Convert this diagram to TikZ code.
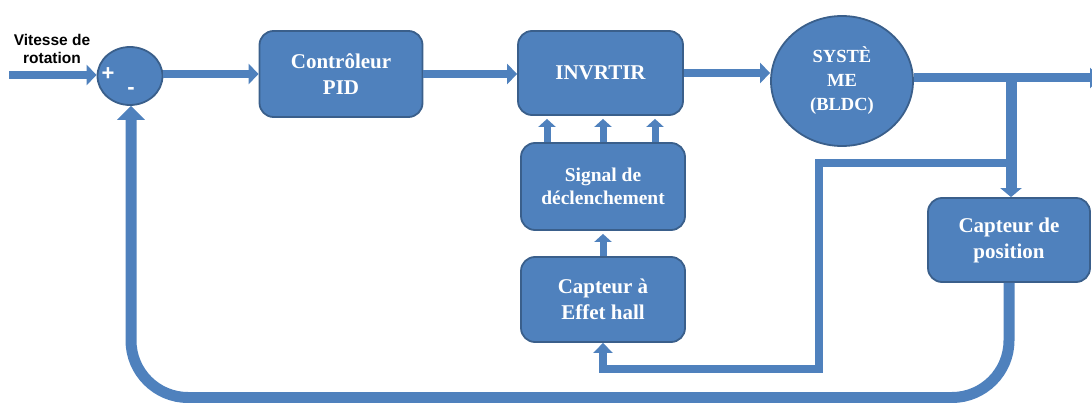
\documentclass[tikz,border=0pt]{standalone}
\usepackage{fontspec}
\setmainfont{Liberation Serif}
\newfontfamily\arialf{Liberation Sans}
\usetikzlibrary{arrows.meta,shapes.geometric}
\definecolor{bfill}{HTML}{4F81BD}
\definecolor{bline}{HTML}{3A5F8B}
\begin{document}
\begin{tikzpicture}[x=1pt,y=-1pt,
  blk/.style={draw=bline,line width=1.8pt,fill=bfill,rounded corners=14pt,text=white,
    font=\bfseries\fontsize{21}{26}\selectfont,align=center,inner sep=0pt},
  circ/.style={ellipse,draw=bline,line width=1.8pt,fill=bfill,text=white,
    font=\bfseries\fontsize{18.5}{24}\selectfont,align=center,inner sep=0pt},
  conn/.style={draw=bfill,line width=8pt,-{Triangle[width=20pt,length=10pt]}},
  small/.style={draw=bfill,line width=7pt,-{Triangle[width=17pt,length=8pt]}},
  fb/.style={draw=bfill,line width=11pt,rounded corners=57pt,-{Triangle[width=27pt,length=14pt]}},
  sym/.style={text=white,font=\arialf\bfseries\fontsize{22}{22}\selectfont,inner sep=0pt}
]
\useasboundingbox (0,0) rectangle (1092,403);

% nodes
\node[font=\arialf\bfseries\fontsize{15.5}{18}\selectfont,align=center,inner sep=0pt] (lbl) at (52,49) {Vitesse de\\rotation};
\coordinate (in) at (9,75);
\node[circ,minimum width=65pt,minimum height=58pt] (sum) at (130,76) {};
\node[sym] (plus) at (108,74) {+};
\node[sym] (minus) at (131,91) {-};
\node[blk,minimum width=163pt,minimum height=86pt] (pid) at (341,74) {Contrôleur\\PID};
\node[blk,minimum width=165pt,minimum height=84pt] (inv) at (600.5,73) {INVRTIR};
\node[circ,minimum width=142pt,minimum height=130pt] (sys) at (842,81) {SYSTÈ\\ME\\(BLDC)};
\node[blk,minimum width=164pt,minimum height=87pt,font=\bfseries\fontsize{19.5}{23}\selectfont] (sig) at (603,186.5) {Signal de\\déclenchement};
\node[blk,minimum width=164pt,minimum height=85pt] (hall) at (603,299.5) {Capteur à\\Effet hall};
\node[blk,minimum width=162pt,minimum height=84pt] (cpos) at (1009,240) {Capteur de\\position};

\coordinate (out) at (1100,78);
\coordinate (j1) at (1011,78);
\coordinate (j2) at (1011,163);
\coordinate (c1) at (819,163);
\coordinate (c2) at (819,369);
\coordinate (fbr) at (1009,397.5);
\coordinate (fbl) at (131,397.5);

% main chain
\draw[conn] (in) -- (sum.west |- in);
\draw[conn] (sum.east |- pid.west) -- (pid.west);
\draw[conn] (pid.east) -- (pid.east -| inv.west);
\draw[conn] (inv.east) -- (inv.east -| sys.west);
\draw[draw=bfill,line width=9pt,-{Triangle[width=20pt,length=10pt]}] (sys.east |- out) -- (out);

% branch to position sensor
\draw[draw=bfill,line width=11pt,-{Triangle[width=21pt,length=9pt]}] (j1) -- (j1 |- cpos.north);
% branch to hall sensor
\draw[draw=bfill,line width=8pt,-{Triangle[width=19pt,length=10pt]}]
  ([xshift=5pt]j2) -- (c1) -- (c2) -- (hall.south |- c2) -- (hall.south);

% signal -> inverter
\draw[small] ([xshift=-56pt]sig.north) -- ([xshift=-56pt,yshift=-3pt]inv.south -| sig.north);
\draw[small] (sig.north) -- ([yshift=-3pt]inv.south -| sig.north);
\draw[small] ([xshift=52pt]sig.north) -- ([xshift=52pt,yshift=-3pt]inv.south -| sig.north);
% hall -> signal
\draw[small] (hall.north) -- ([yshift=-3pt]sig.south);

% feedback loop
\draw[fb] (cpos.south) -- (fbr) -- (fbl) -- (fbl |- sum.south);
\end{tikzpicture}
\end{document}
